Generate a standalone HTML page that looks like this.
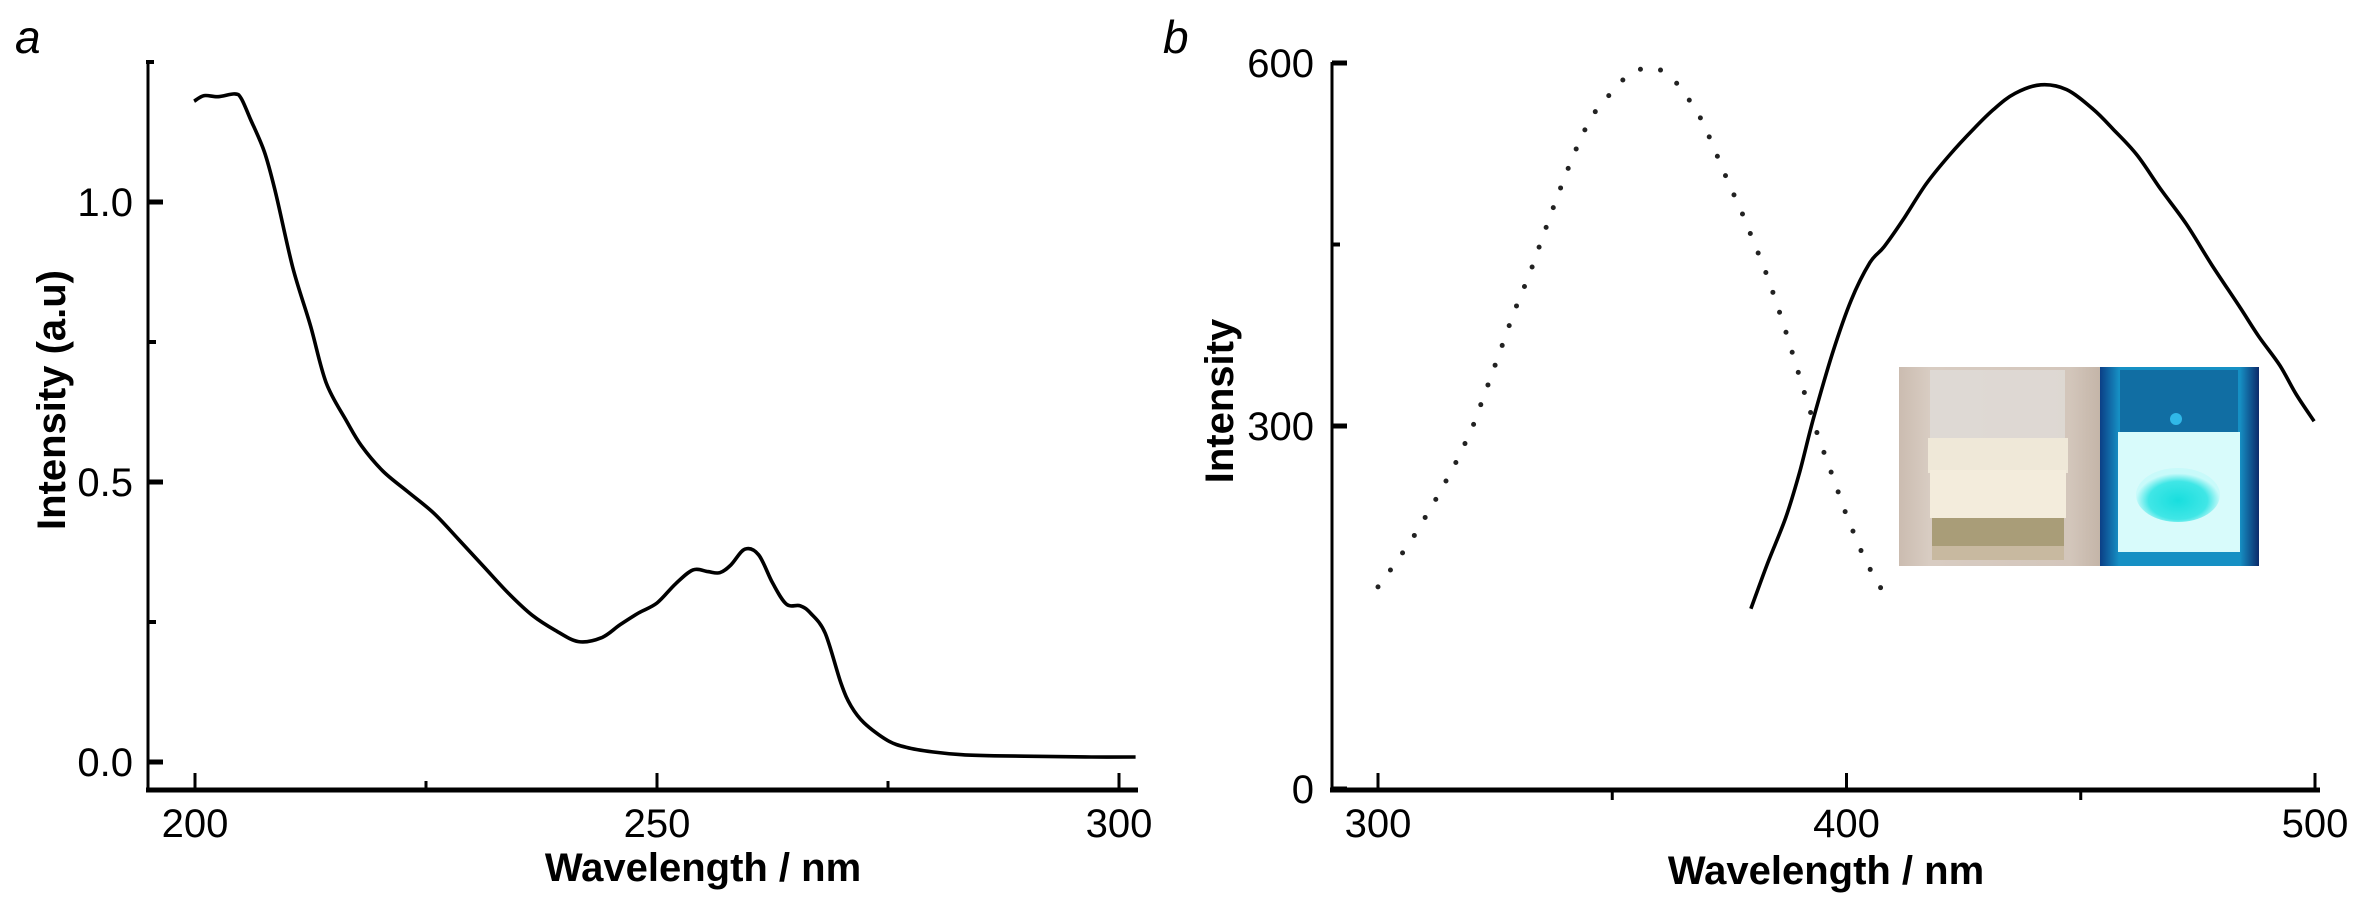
<!DOCTYPE html>
<html><head><meta charset="utf-8"><style>
html,body{margin:0;padding:0;background:#fff}
svg{display:block}
text{font-family:"Liberation Sans",Arial,sans-serif;fill:#000}
</style></head><body>
<svg id="chart" width="2361" height="911" viewBox="0 0 2361 911" xmlns="http://www.w3.org/2000/svg">
<defs>
<linearGradient id="beigeBg" x1="0" y1="0" x2="1" y2="0">
<stop offset="0" stop-color="#cbbcb0"/><stop offset="0.15" stop-color="#d8ccc2"/><stop offset="0.85" stop-color="#d3c6bb"/><stop offset="1" stop-color="#c4b5a8"/></linearGradient>
<linearGradient id="blueBg" x1="0" y1="0" x2="1" y2="0">
<stop offset="0" stop-color="#0b3f86"/><stop offset="0.12" stop-color="#1690c4"/><stop offset="0.88" stop-color="#1690c4"/><stop offset="1" stop-color="#0b2a6a"/></linearGradient>
<radialGradient id="cyanBlob" cx="0.5" cy="0.6" r="0.5"><stop offset="0" stop-color="#18dede"/><stop offset="0.7" stop-color="#40e6e6"/><stop offset="1" stop-color="#c8fafa"/></radialGradient>
</defs>
<g id="panelA"></g>
<g id="panelB"></g>
<g id="inset">
<rect x="1899" y="367" width="201" height="199" fill="url(#beigeBg)"/>
<rect x="1930" y="370" width="135" height="90" fill="#e0dcd8" opacity="0.8"/>
<rect x="1928" y="438" width="140" height="35" fill="#efe8d8"/>
<rect x="1930" y="470" width="136" height="48" fill="#f3ecdc"/>
<rect x="1932" y="518" width="132" height="30" fill="#a99d78"/>
<rect x="1932" y="546" width="132" height="14" fill="#c8b9a0"/>
<rect x="2100" y="367" width="159" height="199" fill="url(#blueBg)"/>
<rect x="2120" y="370" width="118" height="62" fill="#0f5f96" opacity="0.7"/>
<circle cx="2176" cy="419" r="6" fill="#30b8e8"/>
<rect x="2118" y="432" width="122" height="120" fill="#d8fbfb"/>
<ellipse cx="2178" cy="495" rx="42" ry="27" fill="url(#cyanBlob)"/>
</g>
<g id="labels">
<text x="15" y="53" font-size="46" font-style="italic">a</text>
<text x="1163" y="53" font-size="46" font-style="italic">b</text>
<text x="703" y="881" font-size="40" font-weight="bold" text-anchor="middle">Wavelength / nm</text>
<text x="1826" y="884" font-size="40" font-weight="bold" text-anchor="middle">Wavelength / nm</text>
<text transform="translate(65,400) rotate(-90)" font-size="40" font-weight="bold" text-anchor="middle">Intensity (a.u)</text>
<text transform="translate(1233,401) rotate(-90)" font-size="40" font-weight="bold" text-anchor="middle">Intensity</text>
</g>
</svg>
<script>
// Panel a: absorption spectrum
const absWavelength = [199.9,201,202.5,204.3,205,206,207.5,208.7,210.6,212.5,214.2,216.4,218,220.3,223,225.8,228.5,231.3,234,236.5,239,241.5,244,246,248,250,252,253.9,255.5,256.8,258,259.5,261,262.5,264,265.5,266.6,268.2,269.9,271,272.4,274.9,277,279.8,283,286.5,292,297,301.8];
const absValues = [1.18,1.19,1.188,1.193,1.185,1.148,1.09,1.018,0.882,0.779,0.677,0.609,0.565,0.52,0.483,0.445,0.398,0.348,0.3,0.262,0.235,0.215,0.222,0.245,0.266,0.284,0.318,0.343,0.34,0.338,0.352,0.38,0.37,0.32,0.282,0.279,0.266,0.23,0.141,0.1,0.07,0.039,0.026,0.018,0.013,0.011,0.01,0.009,0.009];
const aXTicks = [200,250,300];
const aXMinor = [225,275];
const aYTicks = [0.0,0.5,1.0];
const aYTickLabels = ["0.0","0.5","1.0"];
const aYMinor = [0.25,0.75];
// Panel b: excitation (dotted) & emission (solid)
const excWavelength = [300,304,308,312,316,320,323,326,329,332.4,335.5,338.4,341,343.5,346,349,352,354,357.6,360.5,363.6,366.5,369.4,372,374.7,377.5,380,382.5,384.7,386.8,388.8,391.3,393.9,397,400,403.3,405.5,407.8];
const excValues = [167,188,211,237,265,297,329,361,394,426,460,491,517,540,558,572,585,592,597,594,584,569,551,527,502,478,454,430,406,381,356,324,292,259,226,195,178,163];
const emWavelength = [379.6,383,387,390,393,397,401,405,408,412,417,422,427,431.5,436,441.5,447,452.6,457,462,467,472.5,478,484,488,492.5,496,499.8];
const emValues = [149,185,224,262,307,360,404,435,448,470,500,524,545,562,575,582,578,562,545,524,496,467,433,398,374,350,326,304];
const bXTicks = [300,400,500];
const bXMinor = [350,450];
const bYTicks = [0,300,600];
const bYMinor = [450];

const NS = "http://www.w3.org/2000/svg";
function mk(tag, attrs, parent){const e=document.createElementNS(NS,tag);for(const k in attrs)e.setAttribute(k,attrs[k]);parent.appendChild(e);return e;}

const axA = {x:w=>195+(w-200)*9.24, y:v=>762-v*560};
const axB = {x:w=>1378+(w-300)*4.685, y:v=>789-v*1.21};

function pathFrom(xs, ys, ax){return xs.map((w,i)=>(i?'L':'M')+ax.x(w).toFixed(1)+' '+ax.y(ys[i]).toFixed(1)).join(' ');}
function smoothPath(xs, ys, ax){
  const p = xs.map((w,i)=>[ax.x(w), ax.y(ys[i])]);
  let d = 'M'+p[0][0].toFixed(1)+' '+p[0][1].toFixed(1);
  for(let i=0;i<p.length-1;i++){
    const p0=p[Math.max(0,i-1)], p1=p[i], p2=p[i+1], p3=p[Math.min(p.length-1,i+2)];
    const c1=[p1[0]+(p2[0]-p0[0])/6, p1[1]+(p2[1]-p0[1])/6];
    const c2=[p2[0]-(p3[0]-p1[0])/6, p2[1]-(p3[1]-p1[1])/6];
    d += ' C'+c1[0].toFixed(1)+' '+c1[1].toFixed(1)+' '+c2[0].toFixed(1)+' '+c2[1].toFixed(1)+' '+p2[0].toFixed(1)+' '+p2[1].toFixed(1);
  }
  return d;
}

// ---- panel a ----
const A = document.getElementById('panelA');
let e;
e = mk('line',{x1:148,y1:61,x2:148,y2:792,stroke:'#000','stroke-width':3},A);


e = mk('line',{x1:146,y1:790,x2:1138,y2:790,stroke:'#000','stroke-width':5},A);


mk('line',{x1:146,y1:62,x2:154,y2:62,stroke:'#000','stroke-width':4},A);
aXTicks.forEach(t=>{
  mk('line',{x1:axA.x(t),y1:790,x2:axA.x(t),y2:773,stroke:'#000','stroke-width':3},A);
  e = mk('text',{x:axA.x(t),y:837,'font-size':40,'text-anchor':'middle'},A);
  e.textContent = t;
  
  
});
aXMinor.forEach(t=>{mk('line',{x1:axA.x(t),y1:790,x2:axA.x(t),y2:781,stroke:'#000','stroke-width':3},A);});
aYTicks.forEach((t,i)=>{
  mk('line',{x1:148,y1:axA.y(t),x2:163,y2:axA.y(t),stroke:'#000','stroke-width':5},A);
  e = mk('text',{x:133,y:axA.y(t)+14,'font-size':40,'text-anchor':'end'},A);
  e.textContent = aYTickLabels[i];
  
  
});
aYMinor.forEach(t=>{mk('line',{x1:148,y1:axA.y(t),x2:156,y2:axA.y(t),stroke:'#000','stroke-width':4},A);});
e = mk('path',{d:smoothPath(absWavelength,absValues,axA),fill:'none',stroke:'#000','stroke-width':3.6,'stroke-linejoin':'round'},A);



// ---- panel b ----
const B = document.getElementById('panelB');
e = mk('line',{x1:1332,y1:62,x2:1332,y2:792,stroke:'#000','stroke-width':3},B);


e = mk('line',{x1:1330,y1:790,x2:2320,y2:790,stroke:'#000','stroke-width':5},B);


bXTicks.forEach(t=>{
  mk('line',{x1:axB.x(t),y1:790,x2:axB.x(t),y2:773,stroke:'#000','stroke-width':3},B);
  e = mk('text',{x:axB.x(t),y:837,'font-size':40,'text-anchor':'middle'},B);
  e.textContent = t;
  
  
});
bXMinor.forEach(t=>{mk('line',{x1:axB.x(t),y1:790,x2:axB.x(t),y2:800,stroke:'#000','stroke-width':3},B);});
bYTicks.forEach(t=>{
  mk('line',{x1:1332,y1:axB.y(t),x2:1347,y2:axB.y(t),stroke:'#000','stroke-width':5},B);
  e = mk('text',{x:1314,y:axB.y(t)+14,'font-size':40,'text-anchor':'end'},B);
  e.textContent = t;
  
  
});
bYMinor.forEach(t=>{mk('line',{x1:1332,y1:axB.y(t),x2:1340,y2:axB.y(t),stroke:'#000','stroke-width':4},B);});
e = mk('path',{d:pathFrom(excWavelength,excValues,axB),fill:'none',stroke:'#222','stroke-width':5,'stroke-linecap':'round','stroke-dasharray':'0 21'},B);


e = mk('path',{d:smoothPath(emWavelength,emValues,axB),fill:'none',stroke:'#000','stroke-width':3.6,'stroke-linejoin':'round'},B);


document.getElementById('chart').appendChild(document.getElementById('inset'));
document.getElementById('chart').appendChild(document.getElementById('labels'));
</script>
</body></html>
